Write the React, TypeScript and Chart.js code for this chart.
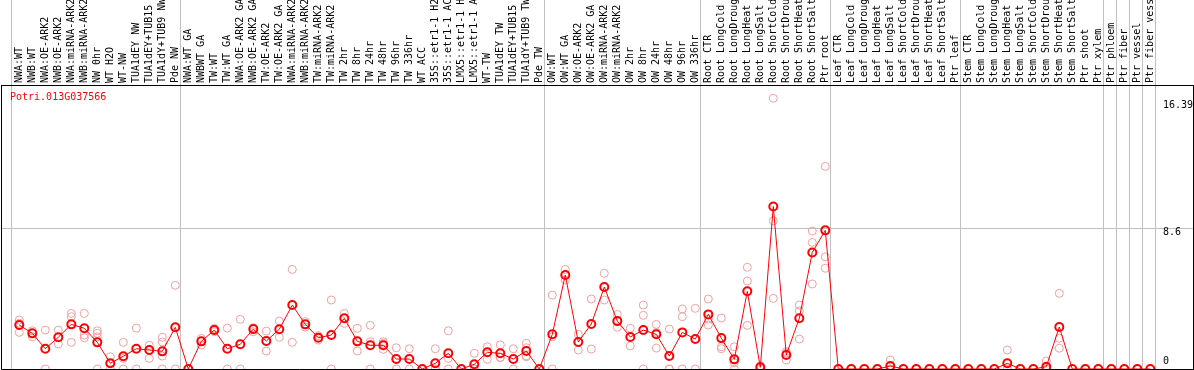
import React, { useEffect, useRef } from "react";
import { Chart, registerables } from "chart.js";

Chart.register(...registerables);

const geneName = "Potri.013G037566";

const categories: string[] = [
  "NWA:WT", "NWB:WT", "NWA:OE-ARK2", "NWB:OE-ARK2", "NWA:miRNA-ARK2", "NWB:miRNA-ARK2", "NW 0hr", "WT H2O", "WT-NW", "TUA1dEY NW", "TUA1dEY+TUB15", "TUA1dY+TUB9 NW", "Pde NW",
  "NWA:WT GA", "NWBWT GA", "TW:WT", "TW:WT GA", "NWA:OE-ARK2 GA", "NWB:OE-ARK2 GA", "TW:OE-ARK2", "TW:OE-ARK2 GA", "NWA:miRNA-ARK2", "NWB:miRNA-ARK2", "TW:miRNA-ARK2", "TW:miRNA-ARK2",
  "TW 2hr", "TW 8hr", "TW 24hr", "TW 48hr", "TW 96hr", "TW 336hr", "WT ACC", "35S::etr1-1 H2", "35S::etr1-1 AC", "LMX5::etr1-1 H", "LMX5::etr1-1 A", "WT-TW", "TUA1dEY TW", "TUA1dEY+TUB15", "TUA1dY+TUB9 TW", "Pde TW",
  "OW:WT", "OW:WT GA", "OW:OE-ARK2", "OW:OE-ARK2 GA", "OW:miRNA-ARK2", "OW:miRNA-ARK2", "OW 2hr", "OW 8hr", "OW 24hr", "OW 48hr", "OW 96hr", "OW 336hr",
  "Root CTR", "Root LongCold", "Root LongDroug", "Root LongHeat", "Root LongSalt", "Root ShortCold", "Root ShortDrou", "Root ShortHeat", "Root ShortSalt", "Ptr root",
  "Leaf CTR", "Leaf LongCold", "Leaf LongDroug", "Leaf LongHeat", "Leaf LongSalt", "Leaf ShortCold", "Leaf ShortDrou", "Leaf ShortHeat", "Leaf ShortSalt", "Ptr leaf",
  "Stem CTR", "Stem LongCold", "Stem LongDroug", "Stem LongHeat", "Stem LongSalt", "Stem ShortCold", "Stem ShortDrou", "Stem ShortHeat", "Stem ShortSalt", "Ptr shoot", "Ptr xylem",
  "Ptr phloem", "Ptr fiber", "Ptr vessel", "Ptr fiber vess",
];

// first category index of each group (last entry = end)
const groupStarts: number[] = [0, 13, 41, 53, 63, 73, 84, 85, 86, 87, 88];

const meanValues: number[] = [
  2.69, 2.18, 1.24, 1.94, 2.73, 2.49, 1.63, 0.35, 0.78, 1.24, 1.16, 1.08, 2.55,
  0, 1.69, 2.38, 1.24, 1.51, 2.44, 1.71, 2.43, 3.91, 2.73, 1.91, 2.08, 3.10, 1.69, 1.45, 1.45, 0.61, 0.61, 0, 0.35, 0.96, 0, 0.29, 1.02, 0.96, 0.61, 1.10, 0,
  2.12, 5.75, 1.65, 2.75, 5.01, 2.93, 1.96, 2.38, 2.12, 0.79, 2.24, 1.83,
  3.34, 1.89, 0.59, 4.75, 0.10, 9.94, 0.86, 3.10, 7.13, 8.48,
  0, 0, 0, 0, 0.18, 0, 0, 0, 0, 0,
  0, 0, 0, 0.35, 0, 0, 0.14, 2.57, 0, 0, 0,
  0, 0, 0, 0,
];

const replicateValues: number[][] = [
  [3.0, 2.8, 2.24], [2.34, 1.97], [2.38, 0], [2.38, 1.53], [3.4, 3.2, 1.63], [3.4, 2.08, 1.91], [2.34, 2.18, 1.97, 0], [0.75, 0], [1.63, 0.65, 0], [2.5, 0], [1.45, 1.16, 0.65], [1.94, 1.65, 0.79, 0], [5.12, 0],
  [0], [1.87, 1.47], [2.49, 2.28], [2.5, 0], [3.04, 0], [2.53, 2.28], [2.32, 1.1], [2.93, 1.94], [6.09, 1.63], [2.9, 2.56], [2.04, 1.77], [4.22, 0], [3.4, 2.79], [2.49, 1.1], [2.67, 1.67, 0], [1.67, 1.57, 1.2], [1.3, 0], [1.24, 0], [0], [1.24, 0, 0], [2.34, 0.65, 0], [0], [0.96, 0, 0], [1.36, 0.59], [1.47, 0.71, 0.7], [1.24, 0], [1.57, 1.3, 0.75, 0.8], [0],
  [4.52, 1.97, 0], [6.09, 5.44], [2.12, 1.16], [4.28, 1.22], [5.85, 4.22], [3.34, 2.55], [2.49, 1.41], [3.91, 3.28, 0], [2.73, 2.24, 1.28], [2.44, 0, 0], [3.67, 3.2, 0], [3.71, 0],
  [4.28, 3.05, 2.69], [3.12, 1.36, 1.24], [1.36, 0.59, 0.39, 0], [6.22, 5.38, 2.67], [0.2, 0], [16.56, 9.06, 4.32], [1.06, 0.97, 0.55], [3.91, 3.55, 1.83], [8.44, 7.74, 5.2], [12.39, 6.86, 6.16],
  [0], [0], [0], [0], [0.55, 0, 0], [0], [0], [0], [0], [0],
  [0], [0], [0], [1.16, 0, 0], [0], [0], [0.49, 0, 0], [4.63, 1.88, 1.27], [0], [0], [0],
  [0], [0], [0], [0],
];

const yTickValues: number[] = [0, 8.6, 16.39];
const yTickLabels: string[] = ["0", "8.6", "16.39"];
const yMax = 17.37;

const FONT = "'DejaVu Sans Mono', 'Liberation Mono', monospace";
const GRID = "#c0c0c0";
const BOUNDARY_SHIFT = -0.62;

const isCategoryTick = (v: number) => Math.abs(v - Math.round(v)) < 1e-6;

export default function App() {
  const ref = useRef<HTMLCanvasElement | null>(null);

  useEffect(() => {
    if (!ref.current) return;
    const meanData = meanValues.map((v, i) => ({ x: i, y: v }));
    const repData: { x: number; y: number }[] = [];
    replicateValues.forEach((arr, i) => arr.forEach((v) => repData.push({ x: i, y: v })));

    const framePlugin = {
      id: "frame",
      afterDraw(chart: any) {
        const { ctx, chartArea } = chart;
        ctx.save();
        ctx.strokeStyle = "#000";
        ctx.lineWidth = 1;
        ctx.beginPath();
        ctx.moveTo(chartArea.left + 0.5, chartArea.top);
        ctx.lineTo(chartArea.left + 0.5, chartArea.bottom + 0.5);
        ctx.lineTo(chartArea.right + 1, chartArea.bottom + 0.5);
        ctx.stroke();
        ctx.fillStyle = "#ff0000";
        ctx.font = "10px " + FONT;
        ctx.textBaseline = "middle";
        ctx.textAlign = "left";
        ctx.fillText(geneName, 10, 97);
        ctx.restore();
      },
    };

    const chart = new Chart(ref.current, {
      type: "line",
      data: {
        datasets: [
          {
            label: geneName,
            data: meanData,
            borderColor: "#ff0000",
            borderWidth: 1,
            pointStyle: "circle",
            pointRadius: 4,
            pointBorderWidth: 2,
            pointBorderColor: "#ff0000",
            pointBackgroundColor: "rgba(0,0,0,0)",
            showLine: true,
            clip: false,
          } as any,
          {
            label: "replicates",
            data: repData,
            showLine: false,
            pointStyle: "circle",
            pointRadius: 4,
            pointBorderWidth: 1,
            pointBorderColor: "#f0a0a0",
            pointBackgroundColor: "rgba(0,0,0,0)",
            clip: false,
          } as any,
        ],
      },
      options: {
        animation: false,
        responsive: false,
        devicePixelRatio: 1,
        layout: { autoPadding: false, padding: { left: 1, right: 1, top: 0, bottom: 1 } },
        plugins: {
          legend: { display: false },
          tooltip: { enabled: false },
        },
        events: [],
        scales: {
          x: {
            type: "linear",
            position: "top",
            min: -1.4077,
            max: 90.285,
            afterBuildTicks: (scale: any) => {
              const t = categories.map((_, i) => i).concat(groupStarts.map((s) => s + BOUNDARY_SHIFT));
              t.sort((a, b) => a - b);
              scale.ticks = t.map((v) => ({ value: v }));
            },
            afterFit: (scale: any) => {
              scale.height = 85;
              scale.paddingLeft = 0;
              scale.paddingRight = 0;
            },
            grid: {
              color: (ctx: any) => (ctx.tick && !isCategoryTick(ctx.tick.value) ? GRID : "rgba(0,0,0,0)"),
              drawTicks: true,
              tickLength: 85,
              lineWidth: 1,
            },
            border: { display: true, color: "#000", width: 1 },
            ticks: {
              autoSkip: false,
              minRotation: 90,
              maxRotation: 90,
              padding: -83,
              labelOffset: 12,
              color: "#000",
              font: { family: FONT, size: 10 },
              callback: (v: any) => (isCategoryTick(v) ? categories[Math.round(v)] ?? "" : ""),
            },
          } as any,
          y: {
            type: "linear",
            position: "right",
            min: 0,
            max: yMax,
            afterBuildTicks: (scale: any) => {
              scale.ticks = yTickValues.map((v) => ({ value: v }));
            },
            afterFit: (scale: any) => {
              scale.width = 0;
              scale.paddingTop = 0;
              scale.paddingBottom = 0;
            },
            grid: {
              color: (ctx: any) => (ctx.tick && ctx.tick.value === yTickValues[1] ? GRID : "rgba(0,0,0,0)"),
              drawTicks: false,
            },
            border: { display: true, color: "#000", width: 1 },
            ticks: {
              mirror: true,
              crossAlign: "far",
              padding: 0,
              labelOffset: 4.5,
              color: "#000",
              font: { family: FONT, size: 10 },
              callback: (v: any) => {
                const idx = yTickValues.indexOf(v);
                const s = idx >= 0 ? yTickLabels[idx] : "";
                return v === 0 ? [s, "", ""] : s;
              },
            },
          } as any,
        },
      },
      plugins: [framePlugin],
    });
    return () => chart.destroy();
  }, []);

  return (
    <div style={{ position: "absolute", left: 0, top: 0, width: 1194, height: 370, background: "#fff" }}>
      <canvas ref={ref} width={1194} height={370} style={{ display: "block" }} />
    </div>
  );
}
